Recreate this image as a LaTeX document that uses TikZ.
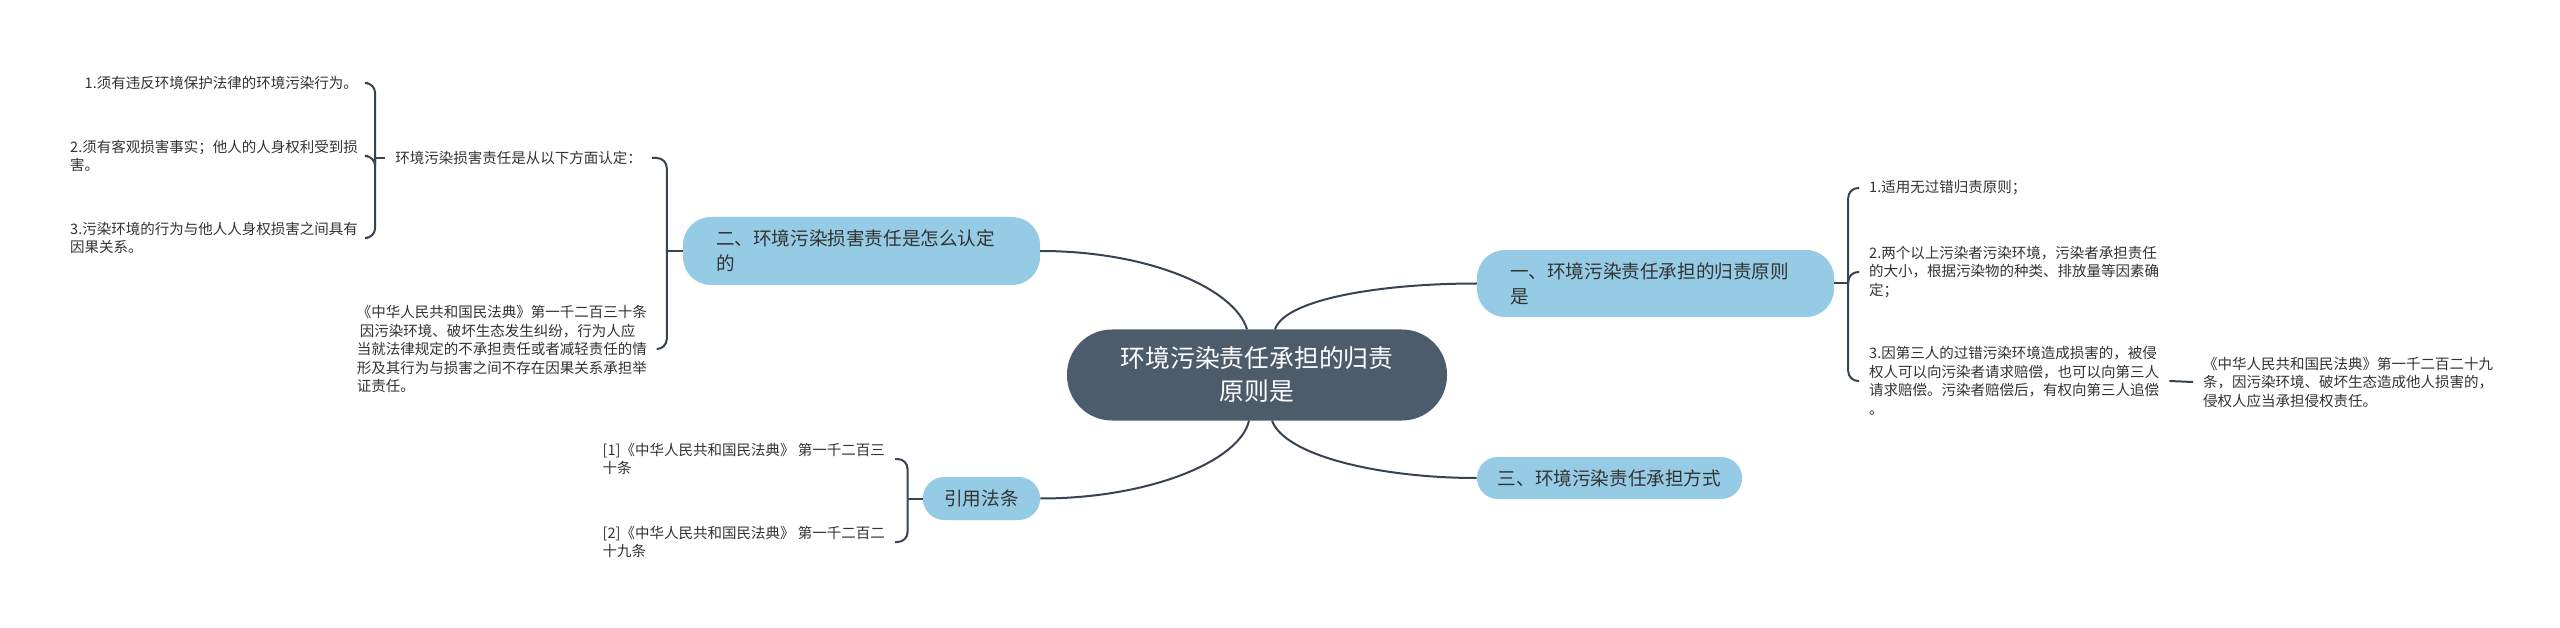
\documentclass[tikz,border=0pt]{standalone}
\usepackage{fontspec}
\usepackage{tikz}
\newfontfamily\cjk{Noto Sans CJK SC}
\definecolor{mroot}{RGB}{76,92,107}
\definecolor{mblue}{RGB}{149,203,228}
\definecolor{mline}{RGB}{55,67,80}
\definecolor{mtext}{RGB}{51,51,51}
\tikzset{
  rootbox/.style={fill=mroot, rounded corners=45pt, text=white, align=center,
      minimum width=380pt, minimum height=91pt,
      font=\cjk\fontsize{24.8}{33}\selectfont},
  topic/.style={fill=mblue, rounded corners=28pt, text=mtext, align=left,
      inner xsep=33pt, font=\cjk\fontsize{18.6}{25}\selectfont},
  leaf/.style={text=mtext, align=left, inner xsep=10pt, inner ysep=0pt,
      font=\cjk\fontsize{14.5}{18.5}\selectfont},
  link/.style={draw=mline, line width=2pt},
  brc/.style={draw=mline, line width=2pt, rounded corners=10pt},
}
\begin{document}
\begin{tikzpicture}[x=1pt,y=1pt]
\useasboundingbox[fill=white] (0,0) rectangle (2560,-628);
% centre and first level
\node[rootbox] (main) at (1257,-375) {环境污染责任承担的归责\\原则是};
\node[topic, text width=291pt, minimum height=68pt] (t2) at (861.5,-251) {二、环境污染损害责任是怎么认定\\的};
\node[topic, text width=291pt, minimum height=67pt] (t1) at (1655.5,-283.5) {一、环境污染责任承担的归责原则\\是};
\node[topic, minimum height=42pt, inner xsep=21pt, rounded corners=21pt] (t3) at (1609.5,-478) {三、环境污染责任承担方式};
\node[topic, minimum height=43pt, inner xsep=21.5pt, rounded corners=21.5pt] (t4) at (981.5,-498.5) {引用法条};

% left branch
\node[leaf, anchor=east] (a0) at (652,-158) {环境污染损害责任是从以下方面认定：};
\node[leaf, anchor=east] (a1) at (368,-83) {1.须有违反环境保护法律的环境污染行为。};
\node[leaf, anchor=east] (a2) at (368,-156) {2.须有客观损害事实；他人的人身权利受到损\\害。};
\node[leaf, anchor=east] (a3) at (368,-238) {3.污染环境的行为与他人人身权损害之间具有\\因果关系。};
\node[leaf, anchor=east] (a4) at (657,-349) {《中华人民共和国民法典》第一千二百三十条\\\hspace*{3pt}因污染环境、破坏生态发生纠纷，行为人应\\当就法律规定的不承担责任或者减轻责任的情\\形及其行为与损害之间不存在因果关系承担举\\证责任。};
\node[leaf, anchor=east] (r1) at (895,-459) {[1]《中华人民共和国民法典》 第一千二百三\\十条};
\node[leaf, anchor=east] (r2) at (895,-542) {[2]《中华人民共和国民法典》 第一千二百二\\十九条};

% right branch
\node[leaf, anchor=west] (b1) at (1859,-188) {1.适用无过错归责原则；};
\node[leaf, anchor=west] (b2) at (1859,-272) {2.两个以上污染者污染环境，污染者承担责任\\的大小，根据污染物的种类、排放量等因素确\\定；};
\node[leaf, anchor=west] (b3) at (1859,-381) {3.因第三人的过错污染环境造成损害的，被侵\\权人可以向污染者请求赔偿，也可以向第三人\\请求赔偿。污染者赔偿后，有权向第三人追偿\\。};
\node[leaf, anchor=west] (c1) at (2193,-382) {《中华人民共和国民法典》第一千二百二十九\\条，因污染环境、破坏生态造成他人损害的，\\侵权人应当承担侵权责任。};

% main links
\draw[link] (t2.east) .. controls +(110,0) and +(-12,40) .. ([xshift=-10pt]main.north);
\draw[link] ([xshift=18pt]main.north) .. controls +(10,30) and +(-97,0) .. (t1.west);
\draw[link] ([xshift=-8pt]main.south) .. controls +(-9,-40) and +(110,0) .. (t4.east);
\draw[link] ([xshift=15pt]main.south) .. controls +(13,-35) and +(-97,0) .. (t3.west);

% braces
\coordinate (j1) at ([xshift=14pt]t1.east);
\draw[brc] (t1.east) -- (j1);
\foreach \n in {b1,b2,b3} \draw[brc] (j1) |- (\n.west);
\coordinate (j2) at ([xshift=-16pt]t2.west);
\draw[brc] (t2.west) -- (j2);
\foreach \n in {a0,a4} \draw[brc] (j2) |- (\n.east);
\coordinate (j3) at ([xshift=-10pt]a0.west);
\draw[brc] (a0.west) -- (j3);
\foreach \n in {a1,a2,a3} \draw[brc] (j3) |- (\n.east);
\coordinate (j4) at ([xshift=-15pt]t4.west);
\draw[brc] (t4.west) -- (j4);
\foreach \n in {r1,r2} \draw[brc] (j4) |- (\n.east);
\draw[link] (b3.east) -- (c1.west);
\end{tikzpicture}
\end{document}
